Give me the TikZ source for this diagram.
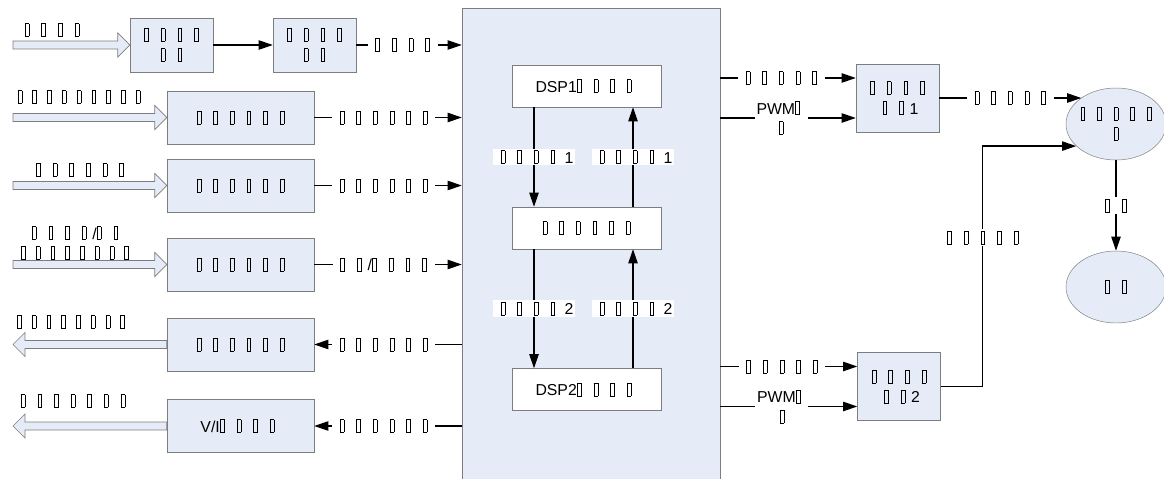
\documentclass[tikz,border=0pt]{standalone}
\usepackage{fontspec}
\setmainfont{Liberation Sans}
\usetikzlibrary{calc,arrows.meta,shapes.geometric}

\definecolor{panel}{RGB}{229,236,247}
\definecolor{rim}{RGB}{125,125,125}

% one empty glyph box, one that hugs the character before it, one set tighter
\newcommand{\gbox}{\setlength{\fboxsep}{0pt}\setlength{\fboxrule}{0.5pt}\fbox{\rule{0pt}{10.5pt}\hspace{2.8pt}}}
\newcommand{\tf}{\makebox[14.2pt]{\gbox}}
\newcommand{\tj}{\hspace{-5pt}\tf}
\newcommand{\tn}{\makebox[12.6pt]{\gbox}}

% hollow block arrow: start, tip, signed head length
\newcommand{\fatarrow}[3]{%
  \draw[fat] ($(#1)+(0,-4)$) -- ($(#2)+(#3,-4)$) -- ($(#2)+(#3,-12)$) -- (#2)
    -- ($(#2)+(#3,12)$) -- ($(#2)+(#3,4)$) -- ($(#1)+(0,4)$) -- cycle;}

\begin{document}
\begin{tikzpicture}[x=0.03cm,y=-0.03cm,
  font=\fontsize{13.5}{17}\selectfont,
  blk/.style={draw=rim, fill=panel, align=center, inner sep=0pt},
  pre/.style={blk, minimum width=2.49cm, minimum height=1.62cm},
  unit/.style={blk, minimum width=4.41cm, minimum height=1.59cm},
  drv/.style={blk, minimum width=2.49cm, minimum height=2.04cm},
  round/.style={blk, ellipse, minimum width=3cm, minimum height=2.16cm},
  core/.style={draw=rim, fill=white, inner sep=0pt, minimum width=4.47cm, minimum height=1.26cm},
  lbl/.style={fill=white, inner sep=1.5pt, align=center},
  sig/.style={line width=1pt, -{Triangle[length=12pt,width=8pt]}},
  fat/.style={draw=rim, fill=panel, line width=0.6pt}]

	\useasboundingbox (0,0) rectangle (1164,479);

	% main controller board
	\node[blk, minimum width=7.74cm, minimum height=14.46cm] (dspbox) at (591,249) {};

	\node[core] (dsp1) at (586.5,86)    {DSP1\tj\tf\tf\tf};
	\node[core] (hub)  at (586.5,228)   {\tf\tf\tf\tf\tf\tf};
	\node[core] (dsp2) at (586.5,389.5) {DSP2\tj\tf\tf\tf};

	\coordinate (lx) at (534,0);
	\coordinate (rx) at (633,0);

	\draw[sig] (dsp1.south -| lx) -- node[lbl]{\tf\tf\tf\tf\hspace{3pt}1} (hub.north -| lx);
	\draw[sig] (hub.north -| rx)  -- node[lbl]{\tf\tf\tf\tf\hspace{3pt}1} (dsp1.south -| rx);
	\draw[sig] (hub.south -| lx)  -- node[lbl]{\tf\tf\tf\tf\hspace{3pt}2} (dsp2.north -| lx);
	\draw[sig] (dsp2.north -| rx) -- node[lbl]{\tf\tf\tf\tf\hspace{3pt}2} (hub.south -| rx);

	% input and output channels
	\node[pre]  (pre1) at (171.5,45)  {\tf\tf\tf\tf\\\tf\tf};
	\node[pre]  (pre2) at (314.5,45)  {\tf\tf\tf\tf\\\tf\tf};
	\node[unit] (in2)  at (240.5,117.5) {\tf\tf\tf\tf\tf\tf};
	\node[unit] (in3)  at (240.5,185.5) {\tf\tf\tf\tf\tf\tf};
	\node[unit] (in4)  at (240.5,264.5) {\tf\tf\tf\tf\tf\tf};
	\node[unit] (out5) at (240.5,344.5) {\tf\tf\tf\tf\tf\tf};
	\node[unit] (out6) at (240.5,426)   {V/I\tj\tf\tf\tf};

	\node (t1) at (52,30)   {\tf\tf\tf\tf};
	\node (t2) at (79,97)   {\tn\tn\tn\tn\tn\tn\tn\tn\tn};
	\node (t3) at (80,170)  {\tf\tf\tf\tf\tf\tf};
	\node[align=center] (t4) at (75,243) {\tf\tf\tf\tf/\tj\tf\\\tn\tn\tn\tn\tn\tn\tn\tn};
	\node (t5) at (71,322)  {\tn\tn\tn\tn\tn\tn\tn\tn};
	\node (t6) at (73,401)  {\tf\tf\tf\tf\tf\tf\tf};

	\coordinate (src1) at (13,45);
	\coordinate (src2) at (13,117.5);
	\coordinate (src3) at (13,185.5);
	\coordinate (src4) at (13,264.5);
	\coordinate (dst5) at (13,344.5);
	\coordinate (dst6) at (13,426);

	\fatarrow{src1}{pre1.west}{-12}
	\fatarrow{src2}{in2.west}{-12}
	\fatarrow{src3}{in3.west}{-12}
	\fatarrow{src4}{in4.west}{-12}
	\fatarrow{out5.west}{dst5}{12}
	\fatarrow{out6.west}{dst6}{12}

	\draw[sig] (pre1.east) -- (pre2.west);
	\draw[sig] (pre2.east) -- node[lbl,pos=0.44]{\tf\tf\tf\tf} (pre2.east -| dspbox.west);
	\draw[sig] (in2.east) -- node[lbl,pos=0.47]{\tf\tf\tf\tf\tf\tf} (in2.east -| dspbox.west);
	\draw[sig] (in3.east) -- node[lbl,pos=0.47]{\tf\tf\tf\tf\tf\tf} (in3.east -| dspbox.west);
	\draw[sig] (in4.east) -- node[lbl,pos=0.47]{\tf\tf/\tj\tf\tf\tf} (in4.east -| dspbox.west);
	\draw[sig] (out5.east -| dspbox.west) -- node[lbl,pos=0.53]{\tf\tf\tf\tf\tf\tf} (out5.east);
	\draw[sig] (out6.east -| dspbox.west) -- node[lbl,pos=0.53]{\tf\tf\tf\tf\tf\tf} (out6.east);

	% drive stages and machines
	\node[drv] (drv1) at (897.5,98)  {\tf\tf\tf\tf\\\tf\tf1};
	\node[drv] (drv2) at (899,386.5) {\tf\tf\tf\tf\\\tf\tf2};
	\node[round, label={[align=center]center:\tf\tf\tf\tf\tf\\\tf}] (mot) at (1116,124) {};
	\node[round, label={center:\tf\tf}] (load) at (1116,287) {};

	\coordinate (d1a) at ([yshift=0.6cm]drv1.west);
	\coordinate (d1b) at ([yshift=-0.6cm]drv1.west);
	\coordinate (d2a) at ([yshift=0.6cm]drv2.west);
	\coordinate (d2b) at ([yshift=-0.6cm]drv2.west);

	\draw[sig] (d1a -| dspbox.east) -- node[lbl,pos=0.45]{\tf\tf\tf\tf\tf} (d1a);
	\draw[sig] (d1b -| dspbox.east) -- node[lbl,pos=0.45]{PWM\tj\\\tf} (d1b);
	\draw[sig] (d2a -| dspbox.east) -- node[lbl,pos=0.45]{\tf\tf\tf\tf\tf} (d2a);
	\draw[sig] (d2b -| dspbox.east) -- node[lbl,pos=0.45]{PWM\tj\\\tf} (d2b);

	\draw[sig] (drv1.east) -- node[lbl]{\tf\tf\tf\tf\tf} (drv1.east -| mot.143);
	\draw[sig] (drv2.east) -- ++(42,0) |- node[lbl,pos=0.31]{\tf\tf\tf\tf\tf} (mot.209);
	\draw[sig] (mot.south) -- node[lbl]{\tf\tf} (load.north);

\end{tikzpicture}
\end{document}
